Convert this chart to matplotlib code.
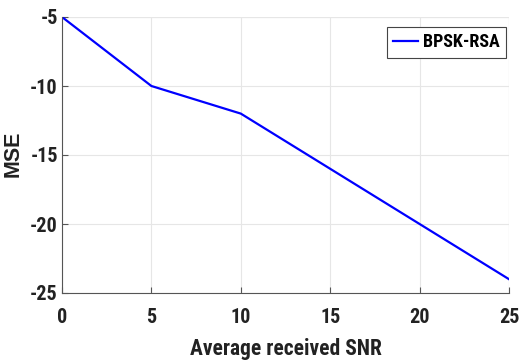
import matplotlib
matplotlib.use("Agg")
import matplotlib.pyplot as plt

# data
snr = [0, 5, 10, 15, 20, 25]
mse = [-5, -10, -12, -16, -20, -24]
xticks = [0, 5, 10, 15, 20, 25]
yticks = [-25, -20, -15, -10, -5]

plt.rcParams["font.family"] = ["Roboto Condensed", "DejaVu Sans"]
plt.rcParams["font.weight"] = "bold"
plt.rcParams["axes.unicode_minus"] = False

fig = plt.figure(figsize=(5.28, 3.63), dpi=100)
ax = fig.add_axes([62 / 528, 1 - 293 / 363, (509 - 62) / 528, (293 - 17) / 363])

ax.plot(snr, mse, color="#0000ff", lw=1.6, label="BPSK-RSA")

ax.set_xlim(0, 25)
ax.set_ylim(-25, -5)
ax.set_xticks(xticks)
ax.set_yticks(yticks)
ax.grid(True, color="#e6e6e6", lw=0.8)
ax.set_axisbelow(True)
for s in ["top", "right"]:
    ax.spines[s].set_visible(False)
for s in ["left", "bottom"]:
    ax.spines[s].set_color("#555555")
    ax.spines[s].set_linewidth(0.8)
# light edges where matlab draws the last grid lines
ax.axhline(-5, color="#e6e6e6", lw=0.8, zorder=0)
ax.axvline(25, color="#e6e6e6", lw=0.8, zorder=0)

ax.tick_params(direction="in", length=4, width=0.8, color="#555555",
               labelsize=14.5, labelcolor="#222222")
ax.tick_params(axis="x", pad=11)
ax.tick_params(axis="y", pad=3)
for lab in ax.get_xticklabels() + ax.get_yticklabels():
    lab.set_fontweight("bold")

ax.set_xlabel("Average received SNR", fontsize=15.5, fontweight="bold", color="#222222", labelpad=8)
ax.set_ylabel("MSE", family=["Liberation Sans", "DejaVu Sans"], fontsize=15.5,
              fontweight="bold", color="#222222")
ax.yaxis.set_label_coords((24 - 62) / 447, 1 - (154 - 17) / 276)

leg = ax.legend(loc="upper right", bbox_to_anchor=((506 - 62) / 447, 1 - (27 - 17) / 276),
                prop={"weight": "bold", "size": 13},
                fancybox=False, framealpha=1, edgecolor="#444444",
                handlelength=1.4, handletextpad=0.25, borderpad=0.35,
                borderaxespad=0)
leg.get_frame().set_linewidth(0.8)

fig.savefig("out.png", dpi=100, facecolor="white")
